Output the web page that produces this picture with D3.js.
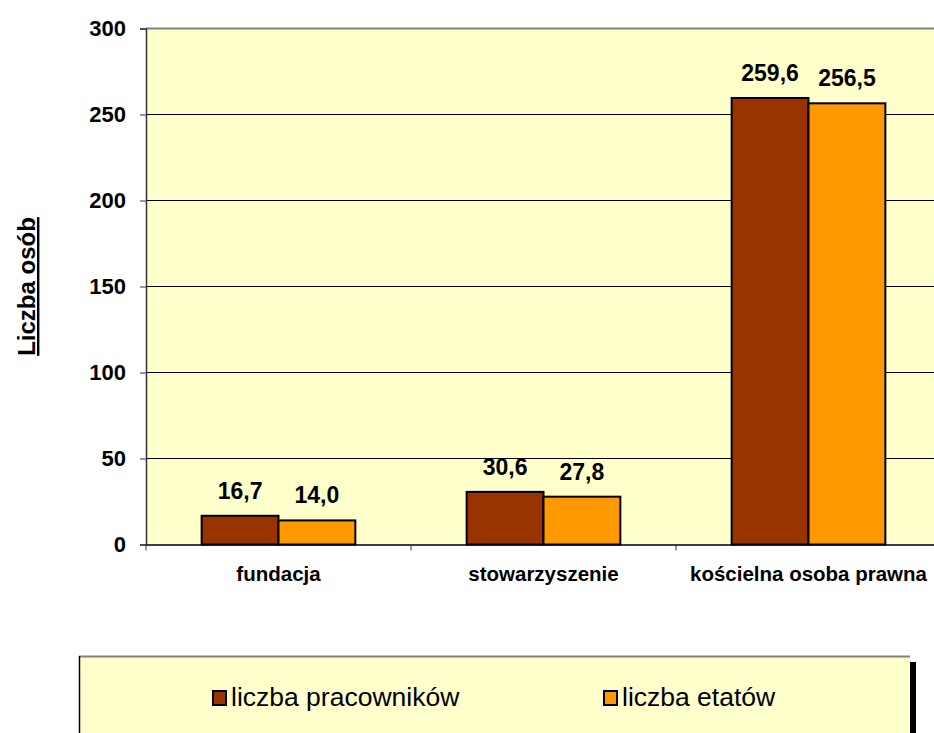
<!DOCTYPE html>
<html>
<head>
<meta charset="utf-8">
<script src="https://d3js.org/d3.v7.min.js"></script>
<style>
  body { margin: 0; background: #fff; }
  text { font-family: Arial, "Liberation Sans", sans-serif; }
</style>
</head>
<body>
<script>
// chart data
var categories = ["fundacja", "stowarzyszenie", "kościelna osoba prawna"];
var seriesNames = ["liczba pracowników", "liczba etatów"];
var pracownicy = [16.7, 30.6, 259.6];
var etaty = [14.0, 27.8, 256.5];
var yTicks = [0, 50, 100, 150, 200, 250, 300];
var colors = ["#993300", "#FF9900"];

var W = 934, H = 733;
var plotL = 146, plotR = 941, plotT = 28.5, plotB = 544.5;

var svg = d3.select("body").append("svg")
    .attr("width", W)
    .attr("height", H);

var x = d3.scaleBand().domain(categories).range([plotL, plotR]);
var y = d3.scaleLinear().domain([0, 300]).range([plotB, plotT]);
var barW = x.bandwidth() * 0.29;

// plot area
svg.append("rect")
    .attr("x", plotL).attr("y", plotT)
    .attr("width", plotR - plotL).attr("height", plotB - plotT)
    .attr("fill", "#FFFFCC");

// grid lines
svg.selectAll("line.grid")
    .data(yTicks.filter(function(d){ return d > 0 && d < 300; }))
    .enter().append("line")
    .attr("x1", plotL).attr("x2", plotR)
    .attr("y1", function(d){ return y(d); })
    .attr("y2", function(d){ return y(d); })
    .attr("stroke", "#000").attr("stroke-width", 1);

svg.append("line")
    .attr("x1", plotL).attr("x2", plotR)
    .attr("y1", y(300)).attr("y2", y(300))
    .attr("stroke", "#808080").attr("stroke-width", 2);

// y axis
var yAxis = svg.append("g")
    .attr("transform", "translate(" + plotL + ",0)")
    .call(d3.axisLeft(y).tickValues(yTicks).tickSize(6).tickPadding(14));
yAxis.select(".domain").attr("stroke", "#333").attr("stroke-width", 1.5);
yAxis.selectAll(".tick line").attr("stroke", "#333");
yAxis.selectAll("text")
    .attr("font-size", 22).attr("font-weight", "bold")
    .attr("fill", "#000").attr("font-family", "Arial, 'Liberation Sans', sans-serif");

// x axis
var xAxis = svg.append("g")
    .attr("transform", "translate(0," + plotB + ")")
    .call(d3.axisBottom(x).tickSize(0).tickPadding(22));
xAxis.select(".domain").attr("stroke", "#000").attr("stroke-width", 1.5);
xAxis.selectAll("text")
    .attr("font-size", 20.5).attr("font-weight", "bold")
    .attr("fill", "#000").attr("font-family", "Arial, 'Liberation Sans', sans-serif");
svg.selectAll("line.xtick")
    .data(categories)
    .enter().append("line")
    .attr("x1", function(d){ return x(d); })
    .attr("x2", function(d){ return x(d); })
    .attr("y1", plotB).attr("y2", plotB + 6)
    .attr("stroke", "#333");

// bars
var series = [pracownicy, etaty];
series.forEach(function(vals, s) {
    var g = svg.append("g");
    g.selectAll("rect")
        .data(vals)
        .enter().append("rect")
        .attr("x", function(d, i){ return x(categories[i]) + x.bandwidth() / 2 - barW + s * barW; })
        .attr("y", function(d){ return y(d); })
        .attr("width", barW)
        .attr("height", function(d){ return y(0) - y(d); })
        .attr("fill", colors[s])
        .attr("stroke", "#000").attr("stroke-width", 2);
    g.selectAll("text")
        .data(vals)
        .enter().append("text")
        .attr("x", function(d, i){ return x(categories[i]) + x.bandwidth() / 2 - barW / 2 + s * barW; })
        .attr("y", function(d){ return y(d) - 17; })
        .attr("text-anchor", "middle")
        .attr("font-size", 23).attr("font-weight", "bold")
        .text(function(d){ return d.toFixed(1).replace(".", ","); });
});

// y title
svg.append("text")
    .attr("transform", "translate(35," + ((plotT + plotB) / 2) + ") rotate(-90)")
    .attr("text-anchor", "middle")
    .attr("font-size", 24).attr("font-weight", "bold")
    .attr("text-decoration", "underline")
    .text("Liczba osób");

// legend
var lg = svg.append("g");
lg.append("rect")
    .attr("x", 910).attr("y", 662).attr("width", 6).attr("height", 80)
    .attr("fill", "#000");
lg.append("rect")
    .attr("x", 79).attr("y", 656).attr("width", 831).attr("height", 90)
    .attr("fill", "#FFFFCC");
lg.append("line")
    .attr("x1", 79).attr("x2", 910).attr("y1", 656.5).attr("y2", 656.5)
    .attr("stroke", "#808080").attr("stroke-width", 2);
lg.append("line")
    .attr("x1", 79.5).attr("x2", 79.5).attr("y1", 656).attr("y2", 733)
    .attr("stroke", "#000").attr("stroke-width", 1.5);

var legX = [212, 603];
seriesNames.forEach(function(name, i) {
    lg.append("rect")
        .attr("x", legX[i] + 1).attr("y", 691)
        .attr("width", 13).attr("height", 14)
        .attr("fill", colors[i]).attr("stroke", "#000").attr("stroke-width", 2);
    lg.append("text")
        .attr("x", legX[i] + 19).attr("y", 706)
        .attr("font-size", 26.5)
        .text(name);
});
</script>
</body>
</html>
